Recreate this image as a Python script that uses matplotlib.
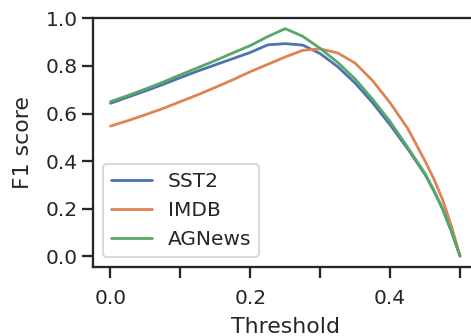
import matplotlib
matplotlib.use("Agg")
import matplotlib.pyplot as plt
import numpy as np
import seaborn as sns

# values
threshold = [0.000, 0.025, 0.050, 0.075, 0.100, 0.125, 0.150, 0.175, 0.200, 0.225,
             0.250, 0.275, 0.300, 0.325, 0.350, 0.375, 0.400, 0.425, 0.450, 0.4625,
             0.475, 0.4875, 0.500]

sst2 = [0.643, 0.669, 0.695, 0.722, 0.751, 0.779, 0.805, 0.831, 0.857, 0.889,
        0.894, 0.888, 0.852, 0.797, 0.728, 0.645, 0.552, 0.452, 0.343, 0.275,
        0.198, 0.105, 0.000]

imdb = [0.547, 0.570, 0.595, 0.621, 0.650, 0.679, 0.710, 0.742, 0.776, 0.807,
        0.838, 0.866, 0.872, 0.855, 0.812, 0.738, 0.645, 0.538, 0.400, 0.325,
        0.238, 0.128, 0.000]

agnews = [0.650, 0.676, 0.703, 0.732, 0.763, 0.793, 0.823, 0.855, 0.886, 0.924,
          0.957, 0.925, 0.874, 0.815, 0.745, 0.660, 0.566, 0.458, 0.347, 0.277,
          0.200, 0.107, 0.000]

series = [("SST2", sst2), ("IMDB", imdb), ("AGNews", agnews)]

sns.set_theme(style="ticks", context="talk")

dpi = 88
fig = plt.figure(figsize=(471 / dpi, 336 / dpi), dpi=dpi)
ax = fig.add_axes([0.1975, 0.2054, 0.8163, 0.7396])

for name, vals in series:
    ax.plot(threshold, vals, label=name)

ax.set_xlim(-0.025, 0.525)
ax.set_ylim(-0.046, 1.0)
ax.set_xticks(np.arange(0, 0.51, 0.1))
ax.set_xticklabels(["0.0", "", "0.2", "", "0.4", ""])
ax.set_yticks(np.arange(0, 1.01, 0.2))
ax.set_yticklabels(["0.0", "0.2", "0.4", "0.6", "0.8", "1.0"])
ax.tick_params(axis="x", pad=9)
ax.set_xlabel("Threshold", labelpad=7)
ax.set_ylabel("F1 score", labelpad=10)
ax.legend(loc="lower left")

fig.savefig("out.png", dpi=dpi)
